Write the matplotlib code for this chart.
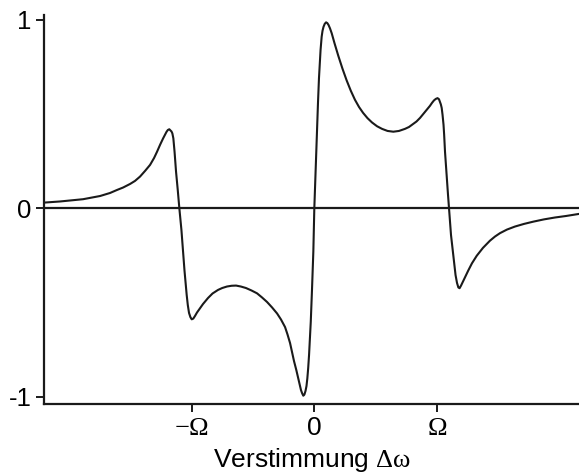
import matplotlib
matplotlib.use("Agg")
import matplotlib.pyplot as plt

# Fehlersignal ueber der Verstimmung (x in Einheiten von Omega)
verstimmung = [
    -2.207, -2.141, -2.076, -1.994, -1.888, -1.831, -1.749, -1.668, -1.611, -1.561,
    -1.504, -1.464, -1.423, -1.382, -1.341, -1.308, -1.284, -1.259, -1.235, -1.207,
    -1.196, -1.184, -1.166, -1.159, -1.151, -1.141, -1.129, -1.115, -1.102, -1.085,
    -1.069, -1.060, -1.042, -1.033, -1.023, -1.012, -1.001, -0.988, -0.974, -0.958,
    -0.933, -0.909, -0.868, -0.831, -0.786, -0.752, -0.713, -0.675, -0.639, -0.600,
    -0.558, -0.513, -0.468, -0.427, -0.386, -0.345, -0.304, -0.272, -0.239, -0.219,
    -0.198, -0.182, -0.166, -0.147, -0.131, -0.118, -0.109, -0.099, -0.090, -0.081,
    -0.072, -0.064, -0.057, -0.050, -0.043, -0.029, -0.024, -0.019, -0.008, 0.000,
    0.020, 0.025, 0.030, 0.038, 0.045, 0.051, 0.060, 0.067, 0.075, 0.085,
    0.096, 0.106, 0.116, 0.128, 0.142, 0.165, 0.196, 0.230, 0.264, 0.298,
    0.332, 0.365, 0.398, 0.434, 0.471, 0.512, 0.553, 0.598, 0.645, 0.691,
    0.740, 0.773, 0.806, 0.834, 0.863, 0.883, 0.904, 0.924, 0.944, 0.961,
    0.977, 0.992, 1.006, 1.018, 1.026, 1.033, 1.040, 1.047, 1.055, 1.060,
    1.067, 1.075, 1.083, 1.091, 1.100, 1.108, 1.116, 1.126, 1.135, 1.144,
    1.153, 1.165, 1.176, 1.186, 1.198, 1.226, 1.257, 1.287, 1.326, 1.377,
    1.434, 1.475, 1.516, 1.573, 1.638, 1.712, 1.788, 1.875, 1.965, 2.055,
    2.161,
]
signal = [
    0.030, 0.033, 0.036, 0.041, 0.048, 0.055, 0.065, 0.081, 0.097, 0.110,
    0.129, 0.145, 0.168, 0.198, 0.230, 0.267, 0.300, 0.337, 0.370, 0.405,
    0.415, 0.419, 0.407, 0.397, 0.371, 0.299, 0.194, 0.097, 0.000, -0.115,
    -0.248, -0.330, -0.460, -0.513, -0.555, -0.577, -0.589, -0.585, -0.571, -0.553,
    -0.530, -0.508, -0.476, -0.452, -0.433, -0.423, -0.415, -0.411, -0.410, -0.415,
    -0.423, -0.436, -0.451, -0.473, -0.497, -0.526, -0.558, -0.590, -0.630, -0.669,
    -0.715, -0.762, -0.810, -0.858, -0.902, -0.937, -0.964, -0.982, -0.994, -0.988,
    -0.969, -0.943, -0.902, -0.847, -0.778, -0.602, -0.518, -0.433, -0.230, 0.000,
    0.380, 0.470, 0.560, 0.690, 0.776, 0.840, 0.910, 0.941, 0.962, 0.978,
    0.986, 0.982, 0.972, 0.954, 0.928, 0.875, 0.808, 0.740, 0.678, 0.623,
    0.575, 0.537, 0.506, 0.478, 0.455, 0.435, 0.421, 0.410, 0.406, 0.410,
    0.421, 0.431, 0.447, 0.460, 0.479, 0.495, 0.511, 0.527, 0.543, 0.559,
    0.572, 0.580, 0.584, 0.578, 0.564, 0.551, 0.532, 0.495, 0.442, 0.390,
    0.300, 0.224, 0.150, 0.076, 0.000, -0.073, -0.142, -0.200, -0.250, -0.303,
    -0.354, -0.396, -0.420, -0.424, -0.410, -0.372, -0.330, -0.292, -0.252, -0.210,
    -0.172, -0.150, -0.132, -0.113, -0.097, -0.083, -0.071, -0.059, -0.049, -0.041,
    -0.030,
]

xticks = [-1, 0, 1]
xticklabels = [r"$\mathrm{-\Omega}$", "0", r"$\mathrm{\Omega}$"]
yticks = [-1, 0, 1]
yticklabels = ["-1", "0", "1"]

plt.rcParams["font.family"] = ["Liberation Sans", "DejaVu Sans"]
plt.rcParams["mathtext.fontset"] = "custom"
plt.rcParams["mathtext.rm"] = "Liberation Serif"
plt.rcParams["mathtext.it"] = "Liberation Serif:italic"

fig = plt.figure(figsize=(5.79, 4.74), dpi=100)
ax = fig.add_axes([0.076, 0.1477, 0.924, 0.8207])

ax.plot(verstimmung, signal, color="#1a1a1a", lw=1.5,
        solid_joinstyle="round", solid_capstyle="round")
ax.axhline(0, color="#1a1a1a", lw=1.6)

ax.set_xlim(-2.207, 2.161)
ax.set_ylim(-1.038, 1.025)

for s in ["top", "right"]:
    ax.spines[s].set_visible(False)
for s in ["left", "bottom"]:
    ax.spines[s].set_linewidth(1.6)
    ax.spines[s].set_color("#1a1a1a")

ax.set_xticks(xticks)
ax.set_xticklabels(xticklabels, fontsize=19)
ax.set_yticks(yticks)
ax.set_yticklabels(yticklabels, fontsize=18.5)
ax.tick_params(direction="out", length=6, width=1.4, color="#1a1a1a", pad=3)

ax.set_xlabel(r"Verstimmung $\mathrm{\Delta\omega}$", fontsize=19, labelpad=4)

fig.savefig("out.png", dpi=100)
